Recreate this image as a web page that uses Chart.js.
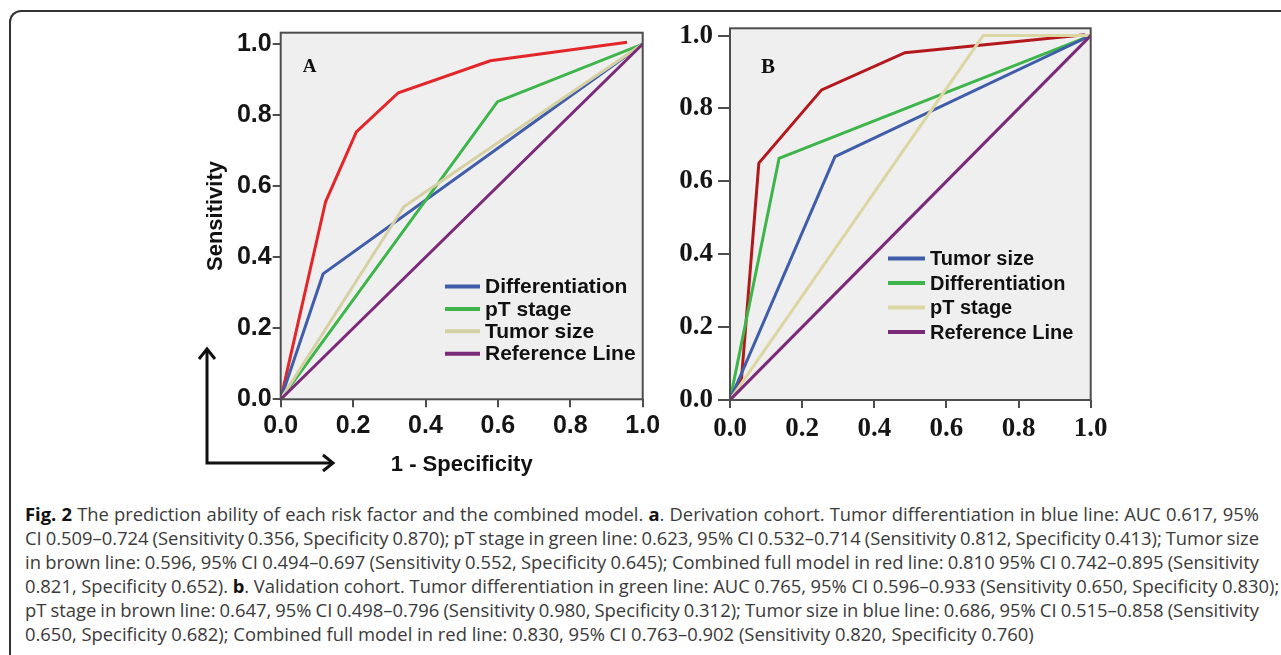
<!DOCTYPE html>
<html>
<head>
<meta charset="utf-8">
<script src="https://cdn.jsdelivr.net/npm/chart.js@4.4.1/dist/chart.umd.min.js"></script>
<style>
  html, body { margin: 0; padding: 0; background: #fff; }
  body { width: 1281px; height: 655px; position: relative; overflow: hidden; }
  #frame {
    position: absolute; left: 9px; top: 10px; width: 1320px; height: 720px;
    border-top: 2px solid #333; border-left: 2px solid #333; border-top-left-radius: 12px;
  }
  canvas { position: absolute; }
  #chartA { left: 190px; top: 20px; }
  #chartB { left: 665px; top: 15px; }
  #caption {
    position: absolute; left: 25px; top: 502px; width: 1234px;
    font-family: "Open Sans", sans-serif; font-size: 18.4px; line-height: 24px; color: #3a3a3a;
  }
  #caption div { text-align: justify; text-align-last: justify; white-space: nowrap; word-spacing: -1.2px; }
  #caption div.wide { word-spacing: -0.2px; }
  #caption div.last { text-align-last: left; word-spacing: 0; }
  #caption b { color: #111; }
</style>
</head>
<body>
<div id="frame"></div>
<canvas id="chartA" width="490" height="460"></canvas>
<canvas id="chartB" width="455" height="445"></canvas>
<div id="caption">
  <div><b>Fig. 2</b> The prediction ability of each risk factor and the combined model. <b>a</b>. Derivation cohort. Tumor differentiation in blue line: AUC 0.617, 95%</div>
  <div>CI 0.509–0.724 (Sensitivity 0.356, Specificity 0.870); pT stage in green line: 0.623, 95% CI 0.532–0.714 (Sensitivity 0.812, Specificity 0.413); Tumor size</div>
  <div>in brown line: 0.596, 95% CI 0.494–0.697 (Sensitivity 0.552, Specificity 0.645); Combined full model in red line: 0.810 95% CI 0.742–0.895 (Sensitivity</div>
  <div class="wide">0.821, Specificity 0.652). <b>b</b>. Validation cohort. Tumor differentiation in green line: AUC 0.765, 95% CI 0.596–0.933 (Sensitivity 0.650, Specificity 0.830);</div>
  <div>pT stage in brown line: 0.647, 95% CI 0.498–0.796 (Sensitivity 0.980, Specificity 0.312); Tumor size in blue line: 0.686, 95% CI 0.515–0.858 (Sensitivity</div>
  <div class="last">0.650, Specificity 0.682); Combined full model in red line: 0.830, 95% CI 0.763–0.902 (Sensitivity 0.820, Specificity 0.760)</div>
</div>
<script>
// ticks shared by both panels
const axisTicks = [0, 0.2, 0.4, 0.6, 0.8, 1.0];
const tickLabels = ['0.0', '0.2', '0.4', '0.6', '0.8', '1.0'];

// A - derivation cohort (x = 1 - specificity, y = sensitivity)
const aCombinedX = [0, 0.124, 0.209, 0.325, 0.579, 0.957];
const aCombinedY = [0, 0.556, 0.753, 0.863, 0.953, 1.005];
const aDiffX = [0, 0.117, 1];
const aDiffY = [0, 0.353, 1];
const aStageX = [0, 0.599, 1];
const aStageY = [0, 0.838, 1];
const aSizeX = [0, 0.34, 1];
const aSizeY = [0, 0.542, 1];
const aLegend = ['Differentiation', 'pT stage', 'Tumor size', 'Reference Line'];

// B - validation cohort
const bCombinedX = [0, 0.032, 0.080, 0.254, 0.485, 0.984];
const bCombinedY = [0, 0.060, 0.650, 0.851, 0.953, 1.002];
const bSizeX = [0, 0.291, 1];
const bSizeY = [0, 0.668, 1];
const bDiffX = [0, 0.136, 1];
const bDiffY = [0, 0.663, 1];
const bStageX = [0, 0.702, 1];
const bStageY = [0, 1.0, 1];
const bLegend = ['Tumor size', 'Differentiation', 'pT stage', 'Reference Line'];

// diagonal reference line
const refX = [0, 1];
const refY = [0, 1];

const pts = (xs, ys) => xs.map((x, i) => ({ x: x, y: ys[i] }));

function line(label, xs, ys, color) {
  return {
    label: label,
    data: pts(xs, ys),
    borderColor: color,
    borderWidth: 3,
    pointRadius: 0,
    showLine: true,
    tension: 0,
    fill: false
  };
}

// grey plot box, frame, panel letter, legend and the corner arrows
const rocDecor = {
  id: 'rocDecor',
  beforeDraw(chart, args, o) {
    const { ctx, chartArea: a } = chart;
    ctx.save();
    ctx.fillStyle = '#efefef';
    ctx.fillRect(a.left, a.top, a.right - a.left, a.bottom - a.top);
    ctx.restore();
  },
  afterDraw(chart, args, o) {
    const { ctx, chartArea: a } = chart;
    ctx.save();
    ctx.strokeStyle = '#4d4d4d';
    ctx.lineWidth = 2;
    ctx.strokeRect(a.left, a.top, a.right - a.left, a.bottom - a.top);

    ctx.fillStyle = '#111';
    ctx.font = o.letterFont;
    ctx.textAlign = 'center';
    ctx.textBaseline = 'middle';
    ctx.fillText(o.letter, a.left + o.letterX, a.top + o.letterY);

    // legend rows, in the order given by the legend labels
    ctx.font = o.legendFont;
    ctx.textAlign = 'left';
    o.legend.forEach((lab, i) => {
      const ds = chart.data.datasets.find(d => d.label === lab);
      const y = a.top + o.legendY + i * o.legendRow;
      const x = a.left + o.legendX;
      ctx.strokeStyle = ds.borderColor;
      ctx.lineWidth = 4;
      ctx.beginPath();
      ctx.moveTo(x, y);
      ctx.lineTo(x + o.swatch, y);
      ctx.stroke();
      ctx.fillStyle = '#111';
      ctx.fillText(lab, x + o.swatch + 5, y + 1);
    });

    if (o.arrows) {
      ctx.strokeStyle = '#111';
      ctx.lineWidth = 3;
      ctx.lineJoin = 'miter';
      ctx.beginPath();
      ctx.moveTo(17, 329);
      ctx.lineTo(17, 443);
      ctx.lineTo(143, 443);
      ctx.stroke();
      ctx.beginPath();
      ctx.moveTo(9, 339); ctx.lineTo(17, 329); ctx.lineTo(25, 339);
      ctx.moveTo(133, 435); ctx.lineTo(143, 443); ctx.lineTo(133, 451);
      ctx.stroke();
    }
    ctx.restore();
  }
};

function scaleOpts(max, fontFamily, fontSize, tickLen, pad, size, isX, title) {
  return {
    type: 'linear',
    min: 0,
    max: max,
    afterBuildTicks: s => { s.ticks = axisTicks.map(v => ({ value: v })); },
    afterFit: s => {
      if (isX) s.height = size; else s.width = size;
      s.paddingTop = 0; s.paddingBottom = 0; s.paddingLeft = 0; s.paddingRight = 0;
    },
    grid: { drawOnChartArea: false, drawTicks: true, tickLength: tickLen, color: '#4d4d4d', lineWidth: 2 },
    border: { display: false },
    ticks: {
      autoSkip: false,
      maxRotation: 0,
      padding: pad,
      color: '#151515',
      font: { family: fontFamily, size: fontSize, weight: 'bold' },
      callback: (v, i) => tickLabels[i]
    },
    title: title || { display: false }
  };
}

new Chart(document.getElementById('chartA'), {
  type: 'scatter',
  data: {
    datasets: [
      line('Reference Line', refX, refY, '#7a2a78'),
      line('Tumor size', aSizeX, aSizeY, '#d6d1a4'),
      line('pT stage', aStageX, aStageY, '#3db54a'),
      line('Differentiation', aDiffX, aDiffY, '#3f5da8'),
      line('Combined', aCombinedX, aCombinedY, '#e3262a')
    ]
  },
  options: {
    responsive: false,
    animation: false,
    layout: { padding: { top: 12.7, right: 37.3, left: 0, bottom: 0 } },
    plugins: {
      legend: { display: false },
      tooltip: { enabled: false },
      rocDecor: {
        letter: 'A', letterFont: 'bold 19px "Liberation Serif"', letterX: 29, letterY: 34,
        legend: aLegend, legendFont: 'bold 21px "Liberation Sans"',
        legendX: 164.3, legendY: 253.8, legendRow: 22.4, swatch: 35,
        arrows: true
      }
    },
    scales: {
      x: scaleOpts(1, 'Liberation Sans', 25, 8, 4, 80.7, true, {
        display: true, text: '1 - Specificity', color: '#111',
        font: { family: 'Liberation Sans', size: 22, weight: 'bold' },
        padding: { top: 0, bottom: 2 }
      }),
      y: scaleOpts(1.032, 'Liberation Sans', 25, 8, 1, 90.7, false, {
        display: true, text: 'Sensitivity', color: '#111',
        font: { family: 'Liberation Sans', size: 22, weight: 'bold' },
        padding: { top: 13, bottom: 0 }
      })
    }
  },
  plugins: [rocDecor]
});

new Chart(document.getElementById('chartB'), {
  type: 'scatter',
  data: {
    datasets: [
      line('Reference Line', refX, refY, '#7a2a78'),
      line('pT stage', bStageX, bStageY, '#dcd7a2'),
      line('Tumor size', bSizeX, bSizeY, '#3f5da8'),
      line('Differentiation', bDiffX, bDiffY, '#3db54a'),
      line('Combined', bCombinedX, bCombinedY, '#b3191c')
    ]
  },
  options: {
    responsive: false,
    animation: false,
    layout: { padding: { top: 13.3, right: 29.3, left: 0, bottom: 0 } },
    plugins: {
      legend: { display: false },
      tooltip: { enabled: false },
      rocDecor: {
        letter: 'B', letterFont: 'bold 21px "Liberation Serif"', letterX: 38, letterY: 39,
        legend: bLegend, legendFont: 'bold 20px "Liberation Sans"',
        legendX: 158, legendY: 230.2, legendRow: 24.5, swatch: 37,
        arrows: false
      }
    },
    scales: {
      x: scaleOpts(1, 'Liberation Serif', 27, 8, 5, 60, true),
      y: scaleOpts(1.02, 'Liberation Serif', 27, 12, 5, 65, false)
    }
  },
  plugins: [rocDecor]
});
</script>
</body>
</html>
